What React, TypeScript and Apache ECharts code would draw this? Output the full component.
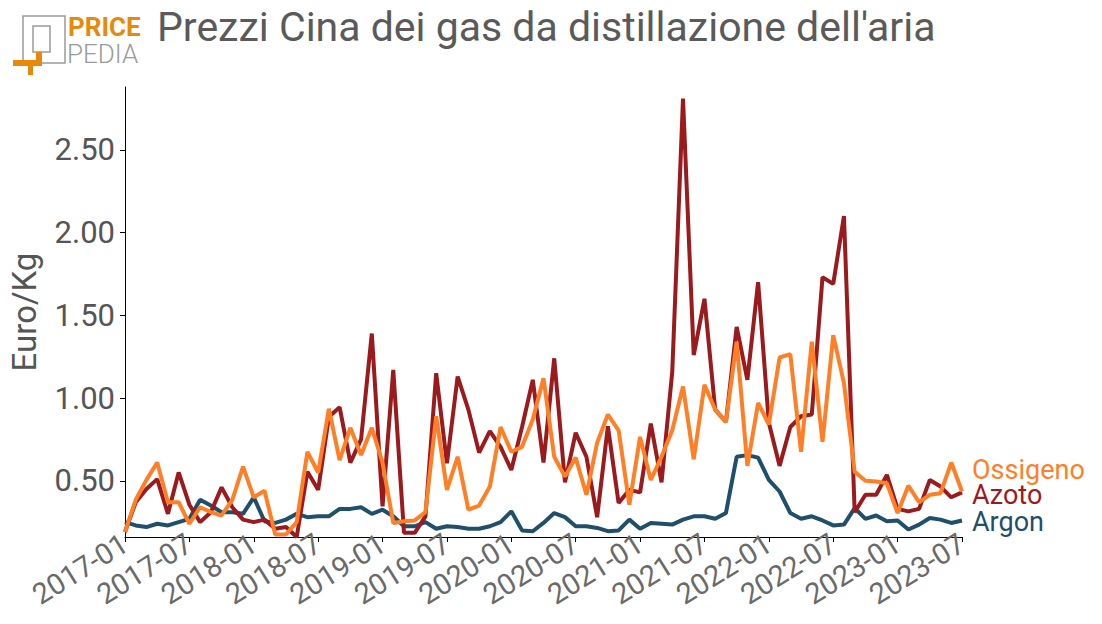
import React, { useEffect, useRef } from "react";
import * as echarts from "echarts";

const months: string[] = [];
for (let y = 2017; y <= 2023; y++) {
  for (let m = 1; m <= 12; m++) {
    if (y === 2023 && m > 7) break;
    months.push(`${y}-${m < 10 ? "0" + m : m}`);
  }
}

const argon = [
  0.25, 0.23, 0.22, 0.24, 0.23, 0.25, 0.27, 0.385, 0.35, 0.31, 0.31, 0.30,
  0.40, 0.255, 0.245, 0.265, 0.30, 0.28, 0.285, 0.285, 0.33, 0.33, 0.34, 0.30,
  0.325, 0.285, 0.225, 0.225, 0.25, 0.21, 0.225, 0.22, 0.21, 0.21, 0.225, 0.25,
  0.315, 0.20, 0.195, 0.245, 0.305, 0.28, 0.225, 0.225, 0.215, 0.195, 0.20, 0.265,
  0.21, 0.245, 0.24, 0.235, 0.265, 0.285, 0.285, 0.27, 0.305, 0.645, 0.655, 0.64,
  0.505, 0.435, 0.305, 0.27, 0.285, 0.26, 0.23, 0.235, 0.335, 0.27, 0.29, 0.255,
  0.26, 0.205, 0.235, 0.275, 0.265, 0.245, 0.26,
];

const azoto = [
  0.19, 0.37, 0.45, 0.51, 0.30, 0.55, 0.355, 0.25, 0.31, 0.46, 0.34, 0.265,
  0.25, 0.265, 0.21, 0.22, 0.16, 0.555, 0.445, 0.885, 0.945, 0.61, 0.75, 1.39,
  0.345, 1.17, 0.185, 0.185, 0.285, 1.15, 0.605, 1.13, 0.93, 0.67, 0.80, 0.705,
  0.565, 0.825, 1.11, 0.61, 1.24, 0.49, 0.79, 0.645, 0.28, 0.83, 0.365, 0.445,
  0.43, 0.845, 0.49, 1.16, 2.81, 1.26, 1.60, 0.93, 0.855, 1.43, 1.11, 1.70,
  0.85, 0.59, 0.825, 0.89, 0.90, 1.73, 1.69, 2.10, 0.31, 0.415, 0.415, 0.535,
  0.33, 0.315, 0.33, 0.505, 0.465, 0.40, 0.43,
];

const ossigeno = [
  0.19, 0.385, 0.505, 0.61, 0.37, 0.37, 0.24, 0.34, 0.31, 0.29, 0.385, 0.585,
  0.40, 0.44, 0.175, 0.175, 0.25, 0.675, 0.55, 0.935, 0.625, 0.82, 0.655, 0.82,
  0.61, 0.245, 0.255, 0.26, 0.31, 0.89, 0.445, 0.645, 0.325, 0.35, 0.465, 0.825,
  0.675, 0.705, 0.87, 1.12, 0.645, 0.525, 0.64, 0.415, 0.73, 0.90, 0.805, 0.355,
  0.765, 0.505, 0.645, 0.805, 1.07, 0.63, 1.08, 0.93, 0.855, 1.34, 0.59, 0.97,
  0.84, 1.245, 1.265, 0.675, 1.34, 0.735, 1.38, 1.09, 0.555, 0.50, 0.495, 0.485,
  0.305, 0.47, 0.37, 0.415, 0.425, 0.61, 0.435,
];

const yTicks = [0.5, 1.0, 1.5, 2.0, 2.5];

const C_ARGON = "#1f4f6b";
const C_AZOTO = "#9b1a1d";
const C_OSSIGENO = "#ff7f27";
const C_LOGO = "#e8890c";
const FONT = "Roboto";

export default function App() {
  const ref = useRef<HTMLDivElement>(null);
  useEffect(() => {
    document.body.style.margin = "0";
    const chart = echarts.init(ref.current!, null, { renderer: "svg" });
    const mkSeries = (name: string, data: number[], color: string, z: number) => ({
      name,
      type: "line",
      data,
      symbol: "none",
      lineStyle: { color, width: 4 },
      itemStyle: { color },
      z,
    });
    chart.setOption({
      animation: false,
      textStyle: { fontFamily: FONT },
      grid: { left: 120, right: 140, top: 87, bottom: 87 },
      xAxis: {
        type: "category",
        data: months,
        boundaryGap: false,
        axisLine: { lineStyle: { color: "#000", width: 1 } },
        axisTick: {
          interval: (i: number) => i % 6 === 0,
          length: 5,
          lineStyle: { color: "#000" },
        },
        axisLabel: {
          interval: (i: number) => i % 6 === 0,
          rotate: 32,
          fontSize: 29,
          color: "#6a6a6a",
          fontFamily: FONT,
          margin: 4,
        },
        splitLine: { show: false },
      },
      yAxis: {
        type: "value",
        min: 0.16,
        max: 2.88,
        name: "Euro/Kg",
        nameLocation: "middle",
        nameRotate: 90,
        nameGap: 84,
        nameTextStyle: { fontSize: 33, color: "#555", fontFamily: FONT },
        axisLine: { show: true, lineStyle: { color: "#000", width: 1 } },
        axisTick: { show: true, length: 5, customValues: yTicks, lineStyle: { color: "#000" } },
        axisLabel: {
          customValues: yTicks,
          formatter: (v: number) => v.toFixed(2),
          fontSize: 31,
          color: "#555",
          fontFamily: FONT,
          margin: 10,
        },
        splitLine: { show: false },
      },
      series: [
        mkSeries("Argon", argon, C_ARGON, 1),
        mkSeries("Azoto", azoto, C_AZOTO, 2),
        mkSeries("Ossigeno", ossigeno, C_OSSIGENO, 3),
      ],
      graphic: [
        { type: "text", left: 157, top: 6, style: { text: "Prezzi Cina dei gas da distillazione dell'aria", fontSize: 41, fill: "#5a5a5a", fontFamily: FONT } },
        { type: "text", left: 972, top: 456, style: { text: "Ossigeno", fontSize: 27, lineHeight: 24, fill: C_OSSIGENO, fontFamily: FONT } },
        { type: "text", left: 972, top: 481, style: { text: "Azoto", fontSize: 27, lineHeight: 24, fill: C_AZOTO, fontFamily: FONT } },
        { type: "text", left: 972, top: 508, style: { text: "Argon", fontSize: 27, lineHeight: 24, fill: C_ARGON, fontFamily: FONT } },
        // logo
        { type: "rect", shape: { x: 23, y: 16, width: 42, height: 47 }, style: { fill: "none", stroke: "#9a9a9a", lineWidth: 1.5 } },
        { type: "rect", shape: { x: 33, y: 26, width: 17, height: 26 }, style: { fill: "none", stroke: "#9a9a9a", lineWidth: 1.5 } },
        { type: "rect", shape: { x: 13, y: 60, width: 29, height: 6 }, style: { fill: C_LOGO } },
        { type: "rect", shape: { x: 36, y: 52, width: 6, height: 14 }, style: { fill: C_LOGO } },
        { type: "rect", shape: { x: 28, y: 60, width: 5, height: 15 }, style: { fill: C_LOGO } },
        { type: "text", left: 68, top: 14, style: { text: "PRICE", fontSize: 26, lineHeight: 22, fontWeight: "bold", fill: C_LOGO, fontFamily: FONT } },
        { type: "text", left: 67, top: 41, style: { text: "PEDIA", fontSize: 26, lineHeight: 22, fontWeight: 300, fill: "#9a9a9a", fontFamily: FONT } },
      ],
    });
    return () => chart.dispose();
  }, []);
  return <div ref={ref} style={{ width: 1102, height: 624 }} />;
}
